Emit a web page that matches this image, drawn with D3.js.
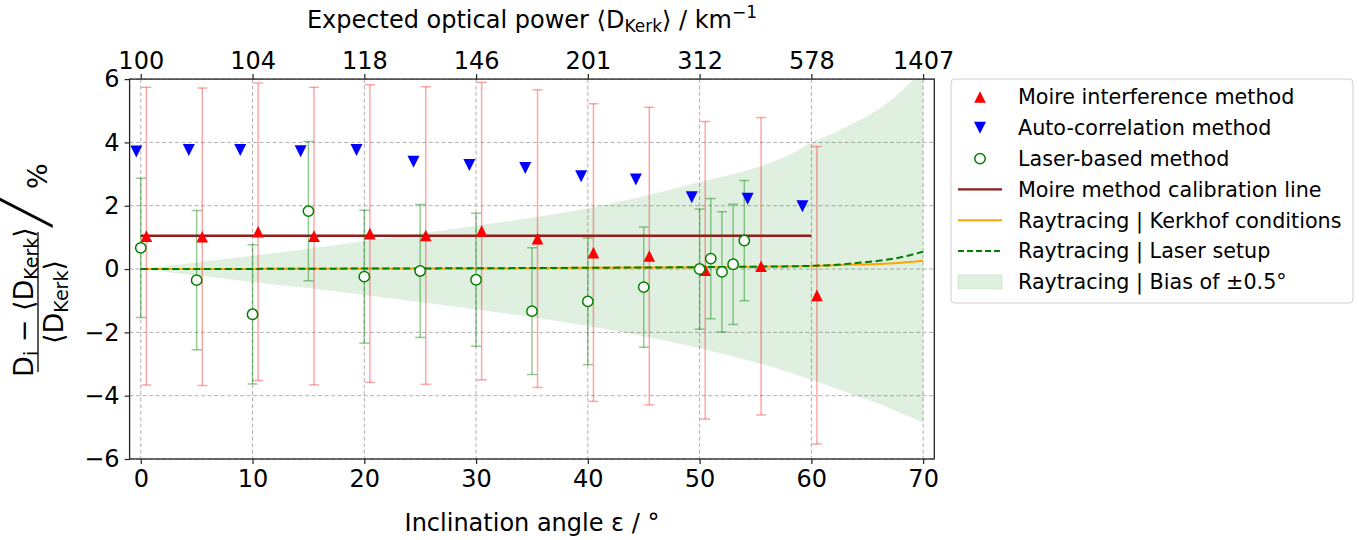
<!DOCTYPE html>
<html>
<head>
<meta charset="utf-8">
<script src="https://cdn.jsdelivr.net/npm/d3@7"></script>
<style>
body { margin: 0; background: #fff; }
text { font-family: "DejaVu Sans", sans-serif; fill: #000; }
</style>
</head>
<body>
<div id="chart"></div>
<script>
// Moire interference method (red, with error bars)
var moireAngle = [0.5, 5.5, 10.5, 15.5, 20.5, 25.5, 30.5, 35.5, 40.5, 45.5, 50.5, 55.5, 60.5];
var moireDev = [1.04, 1.02, 1.18, 1.04, 1.12, 1.06, 1.20, 0.96, 0.52, 0.41, -0.04, 0.09, -0.83];
var moireErr = [4.7, 4.7, 4.7, 4.7, 4.7, 4.7, 4.7, 4.7, 4.7, 4.7, 4.7, 4.7, 4.7];

// Auto-correlation method (blue)
var autoAngle = [-0.4, 4.3, 8.9, 14.3, 19.3, 24.4, 29.4, 34.4, 39.4, 44.3, 49.3, 54.3, 59.2];
var autoDev = [3.71, 3.76, 3.76, 3.72, 3.76, 3.39, 3.29, 3.19, 2.93, 2.83, 2.27, 2.22, 1.98];

// Laser-based method (green open circles, with error bars)
var laserAngle = [0, 5, 10, 15, 20, 25, 30, 35, 40, 45, 50, 51, 52, 53, 54];
var laserDev = [0.67, -0.35, -1.43, 1.83, -0.24, -0.06, -0.34, -1.33, -1.02, -0.57, 0.0, 0.33, -0.09, 0.15, 0.90];
var laserErr = [2.2, 2.2, 2.2, 2.2, 2.1, 2.1, 2.1, 2.0, 2.0, 1.9, 1.9, 1.9, 1.9, 1.9, 1.9];

// Moire calibration line
var calibAngle = [0, 60];
var calibDev = [1.05, 1.05];

// Raytracing curves
var rayAngle = [0, 10, 20, 30, 40, 50, 55, 60, 62, 64, 66, 68, 70];
var rayKerkhof = [0, 0.005, 0.015, 0.025, 0.04, 0.06, 0.075, 0.1, 0.12, 0.14, 0.16, 0.2, 0.26];
var rayLaser = [0, 0.005, 0.015, 0.025, 0.04, 0.06, 0.075, 0.1, 0.13, 0.19, 0.26, 0.37, 0.55];

// Raytracing bias band (+/- 0.5 deg)
var bandAngle = [0, 5, 10, 15, 20, 25, 30, 35, 40, 45, 50, 55, 58, 60, 62, 64, 66, 68, 70];
var bandUpper = [0, 0.21, 0.42, 0.64, 0.88, 1.12, 1.37, 1.62, 1.92, 2.3, 2.75, 3.2, 3.6, 4.0, 4.3, 4.65, 5.05, 5.6, 6.3];
var bandLower = [0, -0.2, -0.41, -0.6, -0.82, -1.05, -1.28, -1.52, -1.8, -2.12, -2.5, -2.95, -3.25, -3.5, -3.75, -4.0, -4.25, -4.55, -4.85];

// Axis ticks
var xTicks = [0, 10, 20, 30, 40, 50, 60, 70];
var topTickLabels = ["100", "104", "118", "146", "201", "312", "578", "1407"];
var yTicks = [-6, -4, -2, 0, 2, 4, 6];

var svgWidth = 1359;
var svgHeight = 540;
var margin = { top: 79.1, right: 1359 - 934.3, bottom: 540 - 459, left: 129.6 };
var width = svgWidth - margin.left - margin.right;
var height = svgHeight - margin.top - margin.bottom;

var calibColor = "#921c1c";

var svg = d3.select("#chart").append("svg")
    .attr("width", svgWidth)
    .attr("height", svgHeight);

var chartGroup = svg.append("g")
    .attr("transform", `translate(${margin.left}, ${margin.top})`);

var x = d3.scaleLinear().domain([-1, 71]).range([0, width]);
var y = d3.scaleLinear().domain([-6, 6]).range([height, 0]);

svg.append("defs").append("clipPath").attr("id", "plotclip")
    .append("rect").attr("width", width).attr("height", height);

// grid
chartGroup.append("g").selectAll("line").data(xTicks).enter().append("line")
    .attr("x1", d => x(d)).attr("x2", d => x(d))
    .attr("y1", 0).attr("y2", height)
    .attr("stroke", "#b0b0b0").attr("stroke-width", 1).attr("stroke-dasharray", "4,2.5");
chartGroup.append("g").selectAll("line").data(yTicks).enter().append("line")
    .attr("x1", 0).attr("x2", width)
    .attr("y1", d => y(d)).attr("y2", d => y(d))
    .attr("stroke", "#b0b0b0").attr("stroke-width", 1).attr("stroke-dasharray", "4,2.5");

var plot = chartGroup.append("g").attr("clip-path", "url(#plotclip)");

// bias band
var bandData = bandAngle.map((a, i) => ({ a: a, lo: bandLower[i], hi: bandUpper[i] }));
plot.append("path").datum(bandData)
    .attr("d", d3.area().x(d => x(d.a)).y0(d => y(d.lo)).y1(d => y(d.hi)).curve(d3.curveMonotoneX))
    .attr("fill", "green").attr("fill-opacity", 0.12);

// calibration line
plot.append("path").datum(calibAngle.map((a, i) => [a, calibDev[i]]))
    .attr("d", d3.line().x(d => x(d[0])).y(d => y(d[1])))
    .attr("fill", "none").attr("stroke", calibColor).attr("stroke-width", 2.4);

// raytracing lines
var rayLine = d3.line().x(d => x(d[0])).y(d => y(d[1])).curve(d3.curveMonotoneX);
plot.append("path").datum(rayAngle.map((a, i) => [a, rayKerkhof[i]]))
    .attr("d", rayLine)
    .attr("fill", "none").attr("stroke", "orange").attr("stroke-width", 2);
plot.append("path").datum(rayAngle.map((a, i) => [a, rayLaser[i]]))
    .attr("d", rayLine)
    .attr("fill", "none").attr("stroke", "green").attr("stroke-width", 2).attr("stroke-dasharray", "7,3.5");

// error bars
function drawErrorBars(angles, vals, errs, color, opacity) {
    var g = plot.append("g").attr("stroke", color).attr("stroke-opacity", opacity).attr("stroke-width", 1.5);
    angles.forEach(function (a, i) {
        var cx = x(a), top = y(vals[i] + errs[i]), bot = y(vals[i] - errs[i]);
        g.append("line").attr("x1", cx).attr("x2", cx).attr("y1", top).attr("y2", bot);
        g.append("line").attr("x1", cx - 5).attr("x2", cx + 5).attr("y1", top).attr("y2", top);
        g.append("line").attr("x1", cx - 5).attr("x2", cx + 5).attr("y1", bot).attr("y2", bot);
    });
}
drawErrorBars(moireAngle, moireDev, moireErr, "red", 0.35);
drawErrorBars(laserAngle, laserDev, laserErr, "green", 0.42);

var triUp = "M0,-5.8L5.8,5.8L-5.8,5.8Z";
var triDown = "M0,6L6,-6L-6,-6Z";

// moire markers
plot.append("g").selectAll("path").data(moireAngle).enter().append("path")
    .attr("d", triUp)
    .attr("transform", (d, i) => `translate(${x(d)},${y(moireDev[i])})`)
    .attr("fill", "red");

// auto-correlation markers
plot.append("g").selectAll("path").data(autoAngle).enter().append("path")
    .attr("d", triDown)
    .attr("transform", (d, i) => `translate(${x(d)},${y(autoDev[i])})`)
    .attr("fill", "blue");

// laser markers
plot.append("g").selectAll("circle").data(laserAngle).enter().append("circle")
    .attr("cx", d => x(d))
    .attr("cy", (d, i) => y(laserDev[i]))
    .attr("r", 5.2)
    .attr("fill", "white").attr("stroke", "green").attr("stroke-width", 1.5);

// axes
var bottomAxis = d3.axisBottom(x).tickValues(xTicks).tickSize(5).tickPadding(6);
var topAxis = d3.axisTop(x).tickValues(xTicks).tickSize(5).tickPadding(5)
    .tickFormat((d, i) => topTickLabels[i]);
var leftAxis = d3.axisLeft(y).tickValues(yTicks).tickSize(5).tickPadding(5)
    .tickFormat(d => String(d).replace("-", "\u2212"));

function styleAxis(g) {
    g.select(".domain").remove();
    g.selectAll(".tick line").attr("stroke", "#222").attr("stroke-width", 1.2);
    g.selectAll(".tick text").style("font-size", "24px").style("font-family", "DejaVu Sans");
}
chartGroup.append("g").attr("transform", `translate(0, ${height})`).call(bottomAxis).call(styleAxis);
chartGroup.append("g").call(topAxis).call(styleAxis);
chartGroup.append("g").call(leftAxis).call(styleAxis);

// frame
chartGroup.append("rect").attr("width", width).attr("height", height)
    .attr("fill", "none").attr("stroke", "#222").attr("stroke-width", 1.3);

// axis titles
svg.append("text").attr("x", 532).attr("y", 531).attr("text-anchor", "middle")
    .style("font-size", "24px").text("Inclination angle \u03b5 / \u00b0");

var topTitle = svg.append("text").attr("x", 532).attr("y", 28).attr("text-anchor", "middle")
    .style("font-size", "24px");
topTitle.append("tspan").text("Expected optical power \u27e8D");
topTitle.append("tspan").attr("dy", 4).style("font-size", "17px").text("Kerk");
topTitle.append("tspan").attr("dy", -4).text("\u27e9 / km");
topTitle.append("tspan").attr("dy", -10).style("font-size", "17px").text("\u22121");

// y label as a fraction, rotated
var yl = svg.append("g").attr("transform", "translate(38, 302) rotate(-90)");
var num = yl.append("text").attr("x", 0).attr("y", -5).attr("text-anchor", "middle").style("font-size", "27px");
num.append("tspan").text("D");
num.append("tspan").attr("dy", 5).style("font-size", "19px").text("i");
num.append("tspan").attr("dy", -5).text(" \u2212 \u27e8D");
num.append("tspan").attr("dy", 5).style("font-size", "19px").text("Kerk");
num.append("tspan").attr("dy", -5).text("\u27e9");
yl.append("line").attr("x1", -70).attr("x2", 70).attr("y1", 0).attr("y2", 0)
    .attr("stroke", "#000").attr("stroke-width", 1.3);
var den = yl.append("text").attr("x", 0).attr("y", 25).attr("text-anchor", "middle").style("font-size", "27px");
den.append("tspan").text("\u27e8D");
den.append("tspan").attr("dy", 5).style("font-size", "19px").text("Kerk");
den.append("tspan").attr("dy", -5).text("\u27e9");
// tall thin slash (full-height diagonal glyph, thinned with a white outline)
yl.append("text").attr("x", 92).attr("y", 2).attr("text-anchor", "middle")
    .style("font-family", "'DejaVu Sans', 'DejaVu Sans Mono'")
    .style("font-size", "56px")
    .attr("stroke", "white").attr("stroke-width", 1.3)
    .text("\u2571");
yl.append("text").attr("x", 113).attr("y", 9).style("font-size", "27px").text("%");

// legend
var legendItems = [
    { label: "Moire interference method", type: "up", color: "red" },
    { label: "Auto-correlation method", type: "down", color: "blue" },
    { label: "Laser-based method", type: "circle", color: "green" },
    { label: "Moire method calibration line", type: "line", color: calibColor },
    { label: "Raytracing | Kerkhof conditions", type: "line", color: "orange" },
    { label: "Raytracing | Laser setup", type: "dash", color: "green" },
    { label: "Raytracing | Bias of \u00b10.5\u00b0", type: "patch", color: "green" }
];
var legend = svg.append("g");
legend.append("rect").attr("x", 951).attr("y", 79).attr("width", 402).attr("height", 224)
    .attr("rx", 4).attr("fill", "white").attr("stroke", "#d0d0d0").attr("stroke-width", 1);
legendItems.forEach(function (it, i) {
    var cy = 97 + i * 30.8;
    var g = legend.append("g");
    if (it.type === "up") {
        g.append("path").attr("d", triUp).attr("transform", `translate(980,${cy})`).attr("fill", it.color);
    } else if (it.type === "down") {
        g.append("path").attr("d", triDown).attr("transform", `translate(980,${cy})`).attr("fill", it.color);
    } else if (it.type === "circle") {
        g.append("circle").attr("cx", 980).attr("cy", cy).attr("r", 5.2)
            .attr("fill", "white").attr("stroke", it.color).attr("stroke-width", 1.5);
    } else if (it.type === "line" || it.type === "dash") {
        g.append("line").attr("x1", 958).attr("x2", 1002).attr("y1", cy).attr("y2", cy)
            .attr("stroke", it.color).attr("stroke-width", it.color === calibColor ? 2.4 : 2)
            .attr("stroke-dasharray", it.type === "dash" ? "6,3" : null);
    } else {
        g.append("rect").attr("x", 958).attr("y", cy - 7).attr("width", 44).attr("height", 14)
            .attr("fill", "green").attr("fill-opacity", 0.12)
            .attr("stroke", "green").attr("stroke-opacity", 0.12);
    }
    g.append("text").attr("x", 1018).attr("y", cy).attr("dy", "0.36em")
        .style("font-size", "20.7px").text(it.label);
});
</script>
</body>
</html>
